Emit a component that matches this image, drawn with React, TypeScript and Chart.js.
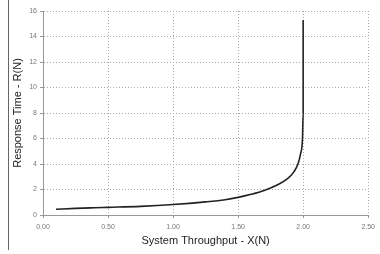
import React, { useEffect, useRef } from "react";
import { Chart, registerables } from "chart.js";

Chart.register(...registerables);

const throughputX = [0.1, 0.25, 0.4, 0.5, 0.75, 1.0, 1.25, 1.4, 1.5, 1.6, 1.7, 1.8, 1.88, 1.93, 1.96, 1.98, 1.995, 2.0, 2.0];
const responseR = [0.45, 0.52, 0.57, 0.6, 0.68, 0.82, 1.03, 1.2, 1.38, 1.62, 1.92, 2.35, 2.85, 3.4, 4.0, 4.8, 6.0, 8.0, 15.3];
const xTicks = [0, 0.5, 1.0, 1.5, 2.0, 2.5];
const yTicks = [0, 2, 4, 6, 8, 10, 12, 14, 16];

const frameLine = {
  id: "frameLine",
  afterDraw(chart: any) {
    const ctx = chart.ctx;
    ctx.save();
    ctx.strokeStyle = "#666";
    ctx.lineWidth = 1;
    ctx.beginPath();
    ctx.moveTo(8.5, 0);
    ctx.lineTo(8.5, 250);
    ctx.stroke();
    ctx.restore();
  },
};

export default function App() {
  const ref = useRef<HTMLCanvasElement>(null);
  useEffect(() => {
    document.body.style.margin = "0";
    const data = throughputX.map((x, i) => ({ x, y: responseR[i] }));
    const chart = new Chart(ref.current!, {
      type: "scatter",
      data: {
        datasets: [
          {
            data,
            showLine: true,
            borderColor: "#222",
            borderWidth: 1.6,
            pointRadius: 0,
            cubicInterpolationMode: "monotone",
          },
        ],
      },
      plugins: [frameLine],
      options: {
        animation: false,
        responsive: false,
        maintainAspectRatio: false,
        layout: { padding: { left: 8, top: 11, right: 10, bottom: 0 } },
        plugins: { legend: { display: false }, tooltip: { enabled: false } },
        scales: {
          x: {
            type: "linear",
            min: 0,
            max: 2.5,
            afterBuildTicks(scale: any) {
              scale.ticks = xTicks.map((v) => ({ value: v }));
            },
            afterFit(scale: any) {
              scale.height = 39;
            },
            ticks: {
              callback: (v: any) => Number(v).toFixed(2),
              font: { family: "Liberation Sans", size: 7 },
              color: "#777",
              padding: 5,
              maxRotation: 0,
            },
            grid: { color: "#aaa", lineWidth: 1, tickLength: 3, tickColor: "#999" },
            border: { display: true, color: "#999", width: 1, dash: [1, 2] },
            title: {
              display: true,
              text: "System Throughput - X(N)",
              font: { family: "Liberation Sans", size: 11 },
              color: "#222",
              padding: { top: 0, bottom: 6 },
            },
          },
          y: {
            type: "linear",
            min: 0,
            max: 16,
            afterBuildTicks(scale: any) {
              scale.ticks = yTicks.map((v) => ({ value: v }));
            },
            afterFit(scale: any) {
              scale.width = 35;
            },
            ticks: {
              font: { family: "Liberation Sans", size: 7 },
              color: "#777",
              padding: 3,
            },
            grid: { color: "#aaa", lineWidth: 1, tickLength: 3, tickColor: "#999" },
            border: { display: true, color: "#999", width: 1, dash: [1, 2] },
            title: {
              display: true,
              text: "Response Time - R(N)",
              font: { family: "Liberation Sans", size: 11 },
              color: "#222",
              padding: { top: 3, bottom: 0 },
            },
          },
        },
      },
    } as any);
    return () => chart.destroy();
  }, []);
  return (
    <div style={{ position: "fixed", left: 0, top: 0, width: 380, height: 254 }}>
      <canvas ref={ref} width={380} height={254} style={{ width: 380, height: 254 }} />
    </div>
  );
}
